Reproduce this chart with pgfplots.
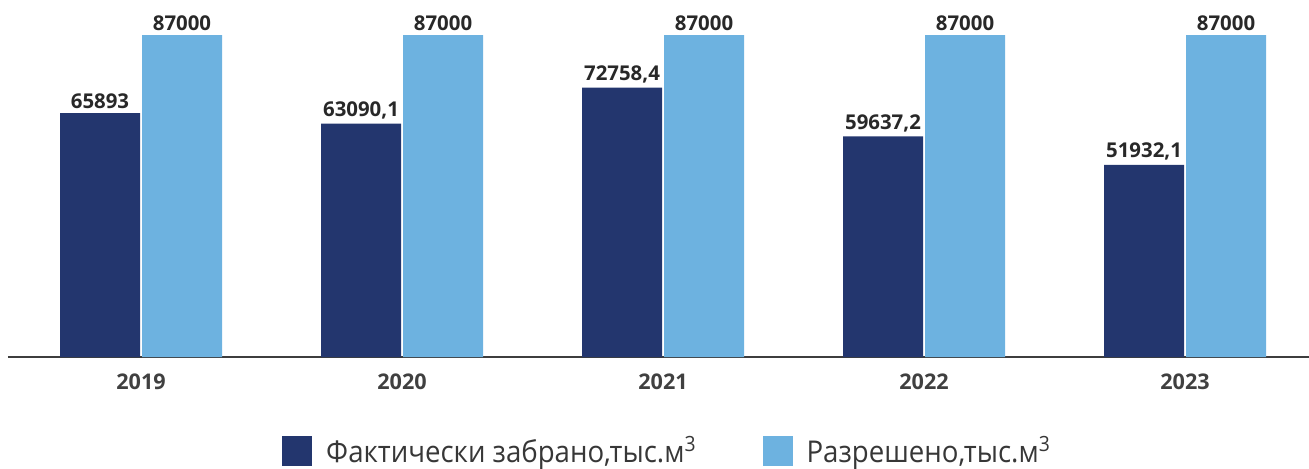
\documentclass[border=0pt]{standalone}
\usepackage{fontspec}
\setmainfont{Open Sans}
\newfontfamily\legfont[FakeStretch=0.92]{Open Sans}
\usepackage{pgfplots}
\pgfplotsset{compat=1.18}
\definecolor{navybar}{RGB}{35,54,110}
\definecolor{skybar}{RGB}{109,178,224}
\definecolor{labelgray}{RGB}{64,64,64}
\definecolor{valgray}{RGB}{40,40,40}
\definecolor{leggray}{RGB}{55,55,55}

\begin{document}
\begin{tikzpicture}
\useasboundingbox (-4pt,-55.5pt) rectangle (650.5pt,178.5pt);
\begin{axis}[
  scale only axis,
  width=650.5pt, height=178.5pt,
  xmin=-0.5096, xmax=4.475,
  ymin=0, ymax=96457,
  ybar=1pt, bar width=40pt,
  axis y line=none,
  axis x line*=bottom,
  x axis line style={-, draw=valgray!90, line width=1pt},
  xtick={0,1,2,3,4},
  xticklabels={2019,2020,2021,2022,2023},
  major tick length=0pt,
  xticklabel style={font=\fontsize{10.8}{12}\selectfont\bfseries, text=labelgray, yshift=-5pt},
  nodes near coords,
  point meta=explicit symbolic,
  every node near coord/.append style={font=\fontsize{10.2}{12}\selectfont\bfseries, text=valgray, inner sep=1pt, yshift=1pt},
  legend columns=2,
  legend style={draw=none, at={(0.5077,-0.263)}, anchor=center,
    font=\legfont\fontsize{15}{17}\selectfont, text=leggray,
    /tikz/every odd column/.append style={column sep=5pt},
    /tikz/every even column/.append style={column sep=31pt}},
  legend image code/.code={\fill[#1] (0pt,-7.5pt) rectangle (15pt,7.5pt);},
  clip=false,
]
\addplot[fill=navybar, draw=none] coordinates {
  (0,65893) [65893]
  (1,63090.1) [63090,1]
  (2,72758.4) [72758,4]
  (3,59637.2) [59637,2]
  (4,51932.1) [51932,1]
};
\addlegendentry{Фактически забрано,тыс.м\textsuperscript{3}}
\addplot[fill=skybar, draw=none] coordinates {
  (0,87000) [87000]
  (1,87000) [87000]
  (2,87000) [87000]
  (3,87000) [87000]
  (4,87000) [87000]
};
\addlegendentry{Разрешено,тыс.м\textsuperscript{3}}
\end{axis}
\end{tikzpicture}
\end{document}
